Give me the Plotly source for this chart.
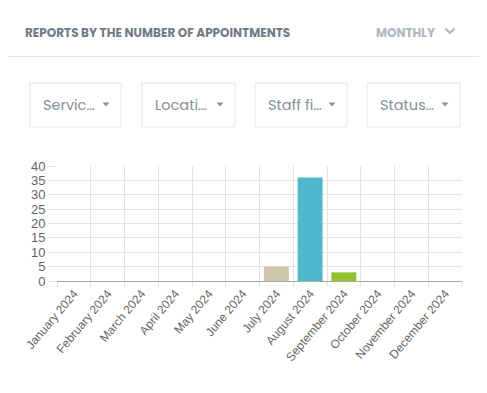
import plotly.graph_objects as go

months = ["January 2024", "February 2024", "March 2024", "April 2024", "May 2024",
          "June 2024", "July 2024", "August 2024", "September 2024", "October 2024",
          "November 2024", "December 2024"]
appointments = [0, 0, 0, 0, 0, 0, 5, 36, 3, 0, 0, 0]
bar_colors = ["#cfc8ab", "#cfc8ab", "#cfc8ab", "#cfc8ab", "#cfc8ab", "#cfc8ab",
              "#cdc6a9", "#4fb8cc", "#94c22c", "#cfc8ab", "#cfc8ab", "#cfc8ab"]
title_text = "REPORTS BY THE NUMBER OF APPOINTMENTS"
period_text = "MONTHLY"
filter_labels = ["Servic…", "Locati…", "Staff fi…", "Status…"]

# page offset caused by default body margin
OX, OY = 8, 8
PAGE_W, PAGE_H = 487, 393
W, H = PAGE_W - OX, PAGE_H - OY
# plot area in page pixels: x 57..462, y 166..281
ML, MR, MT, MB = 57 - OX, PAGE_W - 462, 166 - OY, PAGE_H - 281
PW, PH = W - ML - MR, H - MT - MB


def px(x):
    return (x - OX - ML) / PW


def py(y):
    return (OY + H - MB - y) / PH


fig = go.Figure(go.Bar(x=months, y=appointments, marker=dict(color=bar_colors, line=dict(width=0)),
                       hoverinfo="skip"))

shapes = []
annotations = []
# header divider
shapes.append(dict(type="line", xref="paper", yref="paper", x0=px(0), x1=px(PAGE_W), y0=py(56.5), y1=py(56.5),
                   line=dict(color="#e3eaee", width=1)))
annotations.append(dict(xref="paper", yref="paper", x=px(23), y=py(32), text="<b>" + title_text + "</b>",
                        showarrow=False, xanchor="left", yanchor="middle",
                        font=dict(family="Poppins, Lato, sans-serif", size=12, color="#6f7b87")))
annotations.append(dict(xref="paper", yref="paper", x=px(374), y=py(32), text="<b>" + period_text + "</b>",
                        showarrow=False, xanchor="left", yanchor="middle",
                        font=dict(family="Poppins, Lato, sans-serif", size=12, color="#aeb6be")))
# chevron
shapes.append(dict(type="path", xref="paper", yref="paper",
                   path=f"M {px(445.5)} {py(28.5)} L {px(450)} {py(33)} L {px(454.5)} {py(28.5)}",
                   line=dict(color="#aeb6be", width=2)))

boxes = [(30, 121), (142, 235), (255, 347), (367, 460)]
for (x0, x1), lab in zip(boxes, filter_labels):
    shapes.append(dict(type="rect", xref="paper", yref="paper", x0=px(x0), x1=px(x1), y0=py(83), y1=py(127),
                       line=dict(color="#e2e7eb", width=1), fillcolor="rgba(0,0,0,0)"))
    annotations.append(dict(xref="paper", yref="paper", x=px(x0 + 11), y=py(105), text=lab,
                            showarrow=False, xanchor="left", yanchor="middle",
                            font=dict(family="Poppins, Lato, sans-serif", size=14.5, color="#858e97")))
    cx = x1 - 15
    shapes.append(dict(type="path", xref="paper", yref="paper",
                       path=f"M {px(cx - 3.5)} {py(102.5)} L {px(cx + 3.5)} {py(102.5)} L {px(cx)} {py(106.5)} Z",
                       fillcolor="#8a939c", line=dict(width=0)))

fig.update_layout(
    width=W, height=H, autosize=False,
    margin=dict(l=ML, r=MR, t=MT, b=MB, autoexpand=False),
    paper_bgcolor="white", plot_bgcolor="white",
    bargap=0.26, showlegend=False,
    shapes=shapes, annotations=annotations,
    font=dict(family="Liberation Sans, Arial, sans-serif", size=12, color="#666666"),
)
fig.update_xaxes(type="category", tickson="boundaries", showgrid=True, gridcolor="#e3e3e3", gridwidth=1,
                 ticks="outside", ticklen=5, tickcolor="#e3e3e3", tickangle=-50,
                 showline=True, linecolor="#a8a8a8", linewidth=1, zeroline=False,
                 tickfont=dict(family="Liberation Sans, Arial, sans-serif", size=12, color="#666666"),
                 fixedrange=True)
fig.update_yaxes(range=[0, 40], dtick=5, showgrid=True, gridcolor="#e3e3e3", gridwidth=1,
                 ticks="outside", ticklen=8, tickcolor="#e3e3e3", zeroline=False, showline=False,
                 tickfont=dict(family="Liberation Sans, Arial, sans-serif", size=13, color="#666666"),
                 fixedrange=True)

fig.write_html("out.html", config={"displayModeBar": False})
